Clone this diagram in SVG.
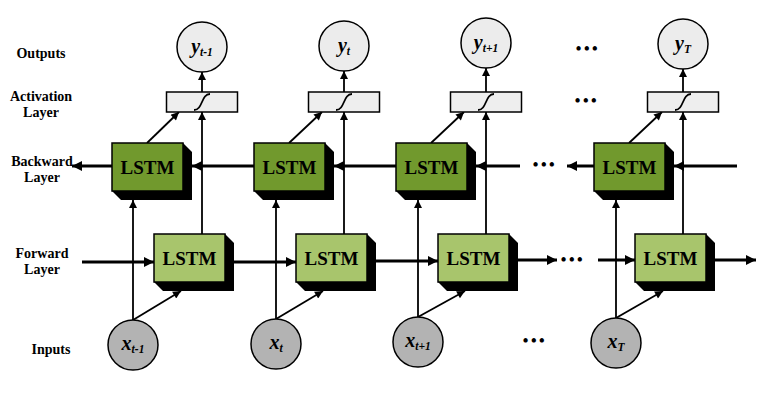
<svg xmlns="http://www.w3.org/2000/svg" width="766" height="406" viewBox="0 0 766 406">
<style>
.lbl{font-family:"Liberation Serif","Times New Roman",serif;font-weight:bold;font-size:14px;text-anchor:middle;fill:#000}
.lstm{font-family:"Liberation Serif","Times New Roman",serif;font-weight:bold;font-size:19px;text-anchor:middle;fill:#000}
.var{font-family:"Liberation Serif","Times New Roman",serif;font-weight:bold;font-style:italic;font-size:20px;text-anchor:middle;fill:#000}
.sub{font-size:11.5px}
.dots{font-family:"Liberation Serif","Times New Roman",serif;font-weight:bold;font-size:16px;letter-spacing:2.5px;text-anchor:middle;fill:#000}
.bk{fill:#71992d;stroke:#000;stroke-width:1.5}
.fw{fill:#a8c56c;stroke:#000;stroke-width:1.5}
.sh{fill:#000}
.out{fill:#ececec;stroke:#000;stroke-width:1.5}
.inp{fill:#b3b3b3;stroke:#000;stroke-width:1.5}
.act{fill:#eeeeee;stroke:#000;stroke-width:1.5}
.sig{fill:none;stroke:#000;stroke-width:1.8}
.thick{stroke:#000;stroke-width:3;fill:none;marker-end:url(#ah)}
.thin{stroke:#000;stroke-width:1.8;fill:none;marker-end:url(#as)}
</style>
<defs>
<marker id="ah" viewBox="0 0 10 10" refX="10" refY="5" markerWidth="13" markerHeight="10" markerUnits="userSpaceOnUse" orient="auto"><path d="M0,0 L10,5 L0,10 z" fill="#000"/></marker>
<marker id="as" viewBox="0 0 10 10" refX="10" refY="5" markerWidth="11" markerHeight="8" markerUnits="userSpaceOnUse" orient="auto"><path d="M0,0 L10,5 L0,10 z" fill="#000"/></marker>
</defs>
<rect width="766" height="406" fill="#fff"/>

<g id="labels">
<text class="lbl" x="41" y="58">Outputs</text>
<text class="lbl" x="41" y="101">Activation</text>
<text class="lbl" x="41" y="117">Layer</text>
<text class="lbl" x="42" y="166">Backward</text>
<text class="lbl" x="42" y="182">Layer</text>
<text class="lbl" x="42" y="258">Forward</text>
<text class="lbl" x="42" y="274">Layer</text>
<text class="lbl" x="51" y="354">Inputs</text>
</g>

<g id="connectors">
<line class="thin" x1="202" y1="92" x2="202" y2="72"/>
<line class="thin" x1="344" y1="92" x2="344" y2="71"/>
<line class="thin" x1="486" y1="92" x2="486" y2="68"/>
<line class="thin" x1="683" y1="92" x2="683" y2="69"/>
<line class="thin" x1="202" y1="234" x2="202" y2="112"/>
<line class="thin" x1="344" y1="234" x2="344" y2="112"/>
<line class="thin" x1="486" y1="234" x2="486" y2="112"/>
<line class="thin" x1="683" y1="234" x2="683" y2="112"/>
<line class="thin" x1="147" y1="143" x2="179" y2="112"/>
<line class="thin" x1="289" y1="143" x2="322" y2="112"/>
<line class="thin" x1="431" y1="143" x2="464" y2="112"/>
<line class="thin" x1="629" y1="143" x2="662" y2="112"/>
<line class="thin" x1="133" y1="320" x2="133" y2="200"/>
<line class="thin" x1="276" y1="319" x2="276" y2="200"/>
<line class="thin" x1="418" y1="317" x2="418" y2="200"/>
<line class="thin" x1="616" y1="318" x2="616" y2="200"/>
<line class="thin" x1="133" y1="320" x2="181" y2="291"/>
<line class="thin" x1="276" y1="319" x2="323" y2="291"/>
<line class="thin" x1="418" y1="317" x2="465" y2="291"/>
<line class="thin" x1="616" y1="318" x2="663" y2="291"/>
<line class="thick" x1="112" y1="166" x2="72" y2="166"/>
<line class="thick" x1="254" y1="166" x2="192" y2="166"/>
<line class="thick" x1="396" y1="166" x2="334" y2="166"/>
<line class="thick" x1="520" y1="166" x2="476" y2="166"/>
<line class="thick" x1="594" y1="166" x2="567" y2="166"/>
<line class="thick" x1="737" y1="166" x2="674" y2="166"/>
<line class="thick" x1="82" y1="262" x2="154" y2="262"/>
<line class="thick" x1="234" y1="262" x2="296" y2="262"/>
<line class="thick" x1="376" y1="261" x2="438" y2="261"/>
<line class="thick" x1="518" y1="260" x2="557" y2="260"/>
<line class="thick" x1="598" y1="260" x2="635" y2="260"/>
<line class="thick" x1="715" y1="260" x2="756" y2="260"/>
</g>

<g id="dots">
<text class="dots" x="588" y="54">•••</text>
<text class="dots" x="587" y="106">•••</text>
<text class="dots" x="545" y="170">•••</text>
<text class="dots" x="573" y="265">•••</text>
<text class="dots" x="535" y="346">•••</text>
</g>

<g id="out1"><circle class="out" cx="202" cy="47" r="25"/><text class="var" x="202" y="53">y<tspan class="sub" dy="3">t-1</tspan></text></g>
<g id="out2"><circle class="out" cx="344" cy="46" r="25"/><text class="var" x="344" y="52">y<tspan class="sub" dy="3">t</tspan></text></g>
<g id="out3"><circle class="out" cx="486" cy="43" r="25"/><text class="var" x="486" y="49">y<tspan class="sub" dy="3">t+1</tspan></text></g>
<g id="out4"><circle class="out" cx="683" cy="44" r="25"/><text class="var" x="683" y="50">y<tspan class="sub" dy="3">T</tspan></text></g>

<g id="act1"><rect class="act" x="166.5" y="92" width="71" height="20"/><path class="sig" d="M194,110 C203,110 201,94 210,94"/></g>
<g id="act2"><rect class="act" x="308.5" y="92" width="71" height="20"/><path class="sig" d="M336,110 C345,110 343,94 352,94"/></g>
<g id="act3"><rect class="act" x="450.5" y="92" width="71" height="20"/><path class="sig" d="M478,110 C487,110 485,94 494,94"/></g>
<g id="act4"><rect class="act" x="647.5" y="92" width="71" height="20"/><path class="sig" d="M675,110 C684,110 682,94 691,94"/></g>

<g id="bw1"><polygon class="sh" points="183,143 192,152 192,200 121,200 112,191"/><rect class="bk" x="112" y="143" width="71" height="48"/><text class="lstm" x="147.5" y="174">LSTM</text></g>
<g id="bw2"><polygon class="sh" points="325,143 334,152 334,200 263,200 254,191"/><rect class="bk" x="254" y="143" width="71" height="48"/><text class="lstm" x="289.5" y="174">LSTM</text></g>
<g id="bw3"><polygon class="sh" points="467,143 476,152 476,200 405,200 396,191"/><rect class="bk" x="396" y="143" width="71" height="48"/><text class="lstm" x="431.5" y="174">LSTM</text></g>
<g id="bw4"><polygon class="sh" points="665,143 674,152 674,200 603,200 594,191"/><rect class="bk" x="594" y="143" width="71" height="48"/><text class="lstm" x="629.5" y="174">LSTM</text></g>

<g id="fw1"><polygon class="sh" points="225,234 234,243 234,291 163,291 154,282"/><rect class="fw" x="154" y="234" width="71" height="48"/><text class="lstm" x="189.5" y="265">LSTM</text></g>
<g id="fw2"><polygon class="sh" points="367,234 376,243 376,291 305,291 296,282"/><rect class="fw" x="296" y="234" width="71" height="48"/><text class="lstm" x="331.5" y="265">LSTM</text></g>
<g id="fw3"><polygon class="sh" points="509,234 518,243 518,291 447,291 438,282"/><rect class="fw" x="438" y="234" width="71" height="48"/><text class="lstm" x="473.5" y="265">LSTM</text></g>
<g id="fw4"><polygon class="sh" points="706,234 715,243 715,291 644,291 635,282"/><rect class="fw" x="635" y="234" width="71" height="48"/><text class="lstm" x="670.5" y="265">LSTM</text></g>

<g id="in1"><circle class="inp" cx="133" cy="345" r="25"/><text class="var" x="133" y="350">x<tspan class="sub" dy="3">t-1</tspan></text></g>
<g id="in2"><circle class="inp" cx="276" cy="344" r="25"/><text class="var" x="276" y="349">x<tspan class="sub" dy="3">t</tspan></text></g>
<g id="in3"><circle class="inp" cx="418" cy="342" r="25"/><text class="var" x="418" y="347">x<tspan class="sub" dy="3">t+1</tspan></text></g>
<g id="in4"><circle class="inp" cx="616" cy="343" r="25"/><text class="var" x="616" y="348">x<tspan class="sub" dy="3">T</tspan></text></g>
</svg>
